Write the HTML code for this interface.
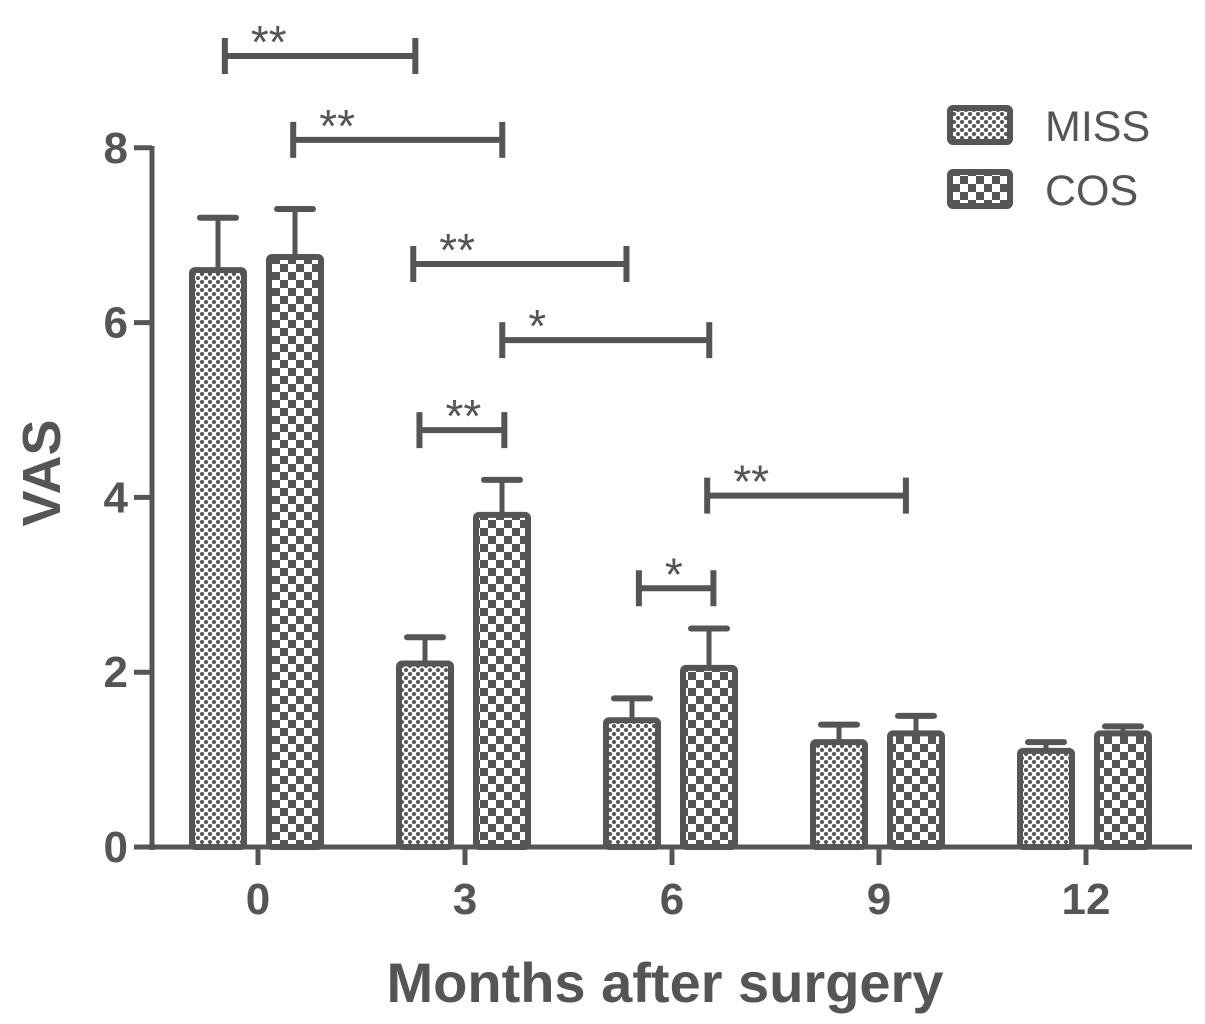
<!DOCTYPE html>
<html><head><meta charset="utf-8"><style>
body{margin:0;background:#fff}
svg{display:block}
text{font-family:"Liberation Sans",sans-serif;fill:#555}
</style></head><body>
<svg id="chart" width="1205" height="1024" viewBox="0 0 1205 1024">
<defs>
<pattern id="dots" width="8" height="8" patternUnits="userSpaceOnUse">
<rect width="8" height="8" fill="#fff"/>
<circle cx="2" cy="2" r="2" fill="#555"/><circle cx="6" cy="6" r="2" fill="#555"/>
</pattern>
<pattern id="check" width="16" height="16" patternUnits="userSpaceOnUse">
<rect width="16" height="16" fill="#fff"/>
<rect x="0" y="0" width="8" height="8" fill="#555"/><rect x="8" y="8" width="8" height="8" fill="#555"/>
</pattern>
</defs>
<g id="plot"></g>
<text x="665" y="1002" font-size="56" font-weight="bold" text-anchor="middle">Months after surgery</text>
<text transform="translate(60,473) rotate(-90)" font-size="54" font-weight="bold" text-anchor="middle">VAS</text>
<g>
<rect x="950" y="108" width="60" height="34" fill="url(#dots)" stroke="#555" stroke-width="6" rx="3"/>
<text x="1045" y="141" font-size="43">MISS</text>
<rect x="950" y="172" width="60" height="34" fill="url(#check)" stroke="#555" stroke-width="6" rx="3"/>
<text x="1045" y="205" font-size="43">COS</text>
</g>
</svg>
<script>
const categories=["0","3","6","9","12"];
const missValues=[6.6,2.1,1.45,1.2,1.1];
const missErr=[0.6,0.3,0.25,0.2,0.1];
const cosValues=[6.75,3.8,2.05,1.3,1.3];
const cosErr=[0.55,0.4,0.45,0.2,0.08];
const yTicks=[0,2,4,6,8];
// significance brackets: [start (category units), end, y value, label]
const sigBrackets=[[-0.16,0.76,9.05,"**"],[0.17,1.18,8.09,"**"],[0.75,1.78,6.67,"**"],[1.18,2.18,5.8,"*"],[0.78,1.19,4.77,"**"],[2.17,3.13,4.02,"**"],[1.84,2.2,2.96,"*"]];
const ns="http://www.w3.org/2000/svg";
const g=document.getElementById('plot');
const y=v=>847-v*87.4;
const xc=i=>258+i*207;
function el(t,a,p){const e=document.createElementNS(ns,t);for(const k in a)e.setAttribute(k,a[k]);(p||g).appendChild(e);return e;}
const C="#555";
let ax=el('line',{x1:152,y1:146,x2:152,y2:850,stroke:C,'stroke-width':5});


let bx=el('line',{x1:150,y1:847,x2:1192,y2:847,stroke:C,'stroke-width':5});


yTicks.forEach(t=>{
 el('line',{x1:134,y1:y(t),x2:152,y2:y(t),stroke:C,'stroke-width':5});
 const tx=el('text',{x:128,y:y(t)+15,'font-size':44,'font-weight':'bold','text-anchor':'end'});
 tx.textContent=t;
 
 
});
categories.forEach((c,i)=>{
 el('line',{x1:xc(i),y1:847,x2:xc(i),y2:865,stroke:C,'stroke-width':5});
 const tx=el('text',{x:xc(i),y:914,'font-size':44,'font-weight':'bold','text-anchor':'middle'});
 tx.textContent=c;
 
 
 [[missValues,missErr,-40,'url(#dots)','miss'],[cosValues,cosErr,37,'url(#check)','cos']].forEach(s=>{
  const cx=xc(i)+s[2], v=s[0][i], e=s[1][i];
  el('line',{x1:cx,y1:y(v),x2:cx,y2:y(v+e),stroke:C,'stroke-width':5});
  el('line',{x1:cx-18,y1:y(v+e),x2:cx+18,y2:y(v+e),stroke:C,'stroke-width':6,'stroke-linecap':'round'});
  const r=el('rect',{x:cx-26,y:y(v),width:52,height:847-y(v),fill:s[3],stroke:C,'stroke-width':6,rx:3});
  
  
 });
});
sigBrackets.forEach(b=>{
 const x1=258+b[0]*207,x2=258+b[1]*207,yy=y(b[2]);
 const gg=el('g',{});
 
 
 el('line',{x1:x1,y1:yy,x2:x2,y2:yy,stroke:C,'stroke-width':6},gg);
 el('line',{x1:x1,y1:yy-18,x2:x1,y2:yy+18,stroke:C,'stroke-width':6},gg);
 el('line',{x1:x2,y1:yy-18,x2:x2,y2:yy+18,stroke:C,'stroke-width':6},gg);
 const t=el('text',{x:x1+26,y:yy+2,'font-size':46},gg);t.textContent=b[3];
});
</script>
</body></html>
